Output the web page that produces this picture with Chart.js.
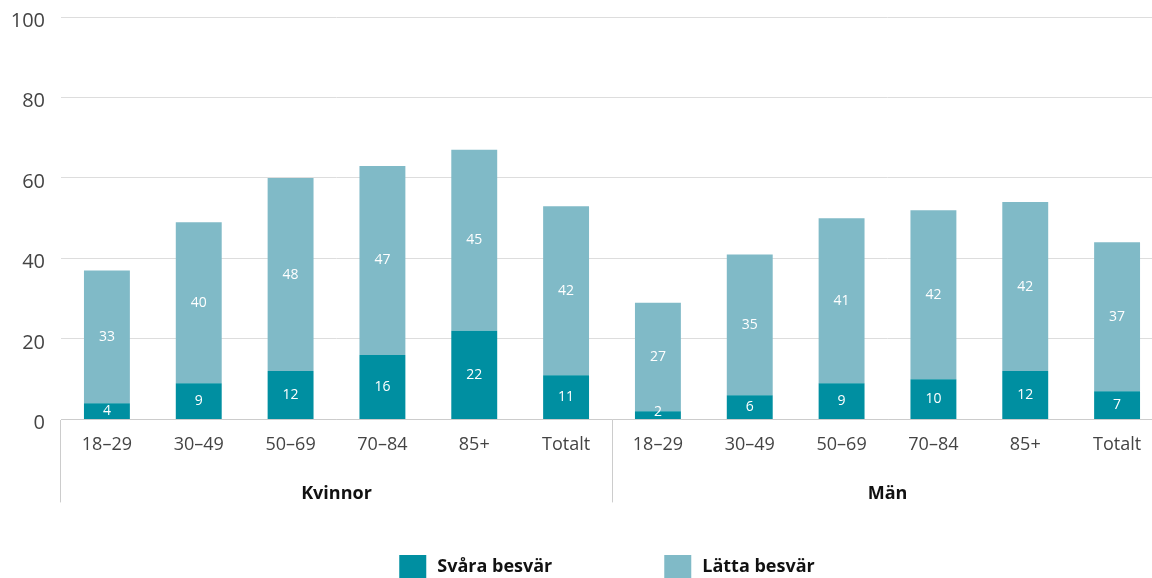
<!DOCTYPE html>
<html>
<head>
<meta charset="utf-8">
<script src="https://cdn.jsdelivr.net/npm/chart.js@4"></script>
<style>
  body { margin: 0; overflow: hidden; background: #fff; }
  #wrap { width: 1163px; height: 578px; }
</style>
</head>
<body>
<div id="wrap"><canvas id="chart1" width="1163" height="578"></canvas></div>
<script>
var categories = ["18–29", "30–49", "50–69", "70–84", "85+", "Totalt",
                  "18–29", "30–49", "50–69", "70–84", "85+", "Totalt"];
var groups = ["Kvinnor", "Män"];
var svara = [4, 9, 12, 16, 22, 11, 2, 6, 9, 10, 12, 7];
var latta = [33, 40, 48, 47, 45, 42, 27, 35, 41, 42, 42, 37];
var yTicks = [0, 20, 40, 60, 80, 100];

var fontFamily = "'Open Sans', 'Noto Sans', sans-serif";

// white numbers inside each segment
var segmentLabels = {
	id: 'segmentLabels',
	afterDatasetsDraw: function(chart) {
		var c = chart.ctx;
		c.save();
		c.fillStyle = '#fff';
		c.font = '14px ' + fontFamily;
		c.textAlign = 'center';
		c.textBaseline = 'middle';
		chart.data.datasets.forEach(function(ds, i) {
			chart.getDatasetMeta(i).data.forEach(function(bar, j) {
				var y = (bar.y + bar.base) / 2;
				if (bar.base - bar.y < 14) y = bar.base - 7;
				c.fillText(ds.data[j], bar.x, y);
			});
		});
		c.restore();
	}
};

// legend drawn by hand so the gap between the two items can be wide
var wideLegend = {
	id: 'wideLegend',
	afterDraw: function(chart) {
		var c = chart.ctx;
		c.save();
		c.font = 'bold 18px ' + fontFamily;
		c.textBaseline = 'middle';
		var box = 27, gap = 112, txtPad = 11;
		var widths = chart.data.datasets.map(function(ds) {
			return box + txtPad + c.measureText(ds.label).width;
		});
		var total = widths[0] + gap + widths[1];
		var x = (chart.chartArea.left + chart.chartArea.right) / 2 - 5 - total / 2;
		var y = chart.height - 23;
		chart.data.datasets.forEach(function(ds, i) {
			c.fillStyle = ds.backgroundColor;
			c.fillRect(x, y, box, 23);
			c.fillStyle = '#111';
			c.fillText(ds.label, x + box + txtPad, y + 12);
			x += widths[i] + gap;
		});
		c.restore();
	}
};

var ctx = document.getElementById('chart1').getContext('2d');
var chart = new Chart(ctx, {
	type: 'bar',
	data: {
		labels: categories,
		datasets: [{
			label: "Svåra besvär",
			backgroundColor: '#008fa1',
			data: svara,
			barPercentage: 0.5,
			categoryPercentage: 1.0
		}, {
			label: "Lätta besvär",
			backgroundColor: '#80bac7',
			data: latta,
			barPercentage: 0.5,
			categoryPercentage: 1.0
		}]
	},
	options: {
		responsive: false,
		animation: false,
		layout: { padding: { top: 17, left: 0, right: 0, bottom: 62 } },
		plugins: {
			legend: { display: false },
			tooltip: { enabled: false }
		},
		scales: {
			x: {
				stacked: true,
				afterFit: function(scale) { scale.height = 45; },
				grid: {
					drawOnChartArea: false,
					offset: true,
					tickLength: 83,
					color: function(c) { return c.index % 6 === 0 ? '#cccccc' : 'rgba(0,0,0,0)'; }
				},
				border: { display: true, color: '#cccccc' },
				ticks: {
					autoSkip: false,
					maxRotation: 0,
					padding: -68,
					color: '#444',
					font: { family: fontFamily, size: 18 }
				}
			},
			x2: {
				type: 'category',
				position: 'bottom',
				labels: groups,
				offset: true,
				grid: { display: false },
				border: { display: false },
				ticks: {
					padding: 11,
					color: '#111',
					font: { family: fontFamily, size: 18, weight: 'bold' }
				}
			},
			y: {
				stacked: true,
				min: 0,
				max: 100,
				afterFit: function(scale) {
					scale.width = 61;
					scale.paddingTop = 0;
					scale.paddingBottom = 0;
				},
				afterBuildTicks: function(scale) {
					scale.ticks = yTicks.map(function(v) { return { value: v }; });
				},
				grid: { color: '#dddddd', drawTicks: false },
				border: { display: false },
				ticks: {
					padding: 16,
					labelOffset: 4,
					color: '#444',
					font: { family: fontFamily, size: 20 }
				}
			}
		}
	},
	plugins: [segmentLabels, wideLegend]
});
</script>
</body>
</html>
